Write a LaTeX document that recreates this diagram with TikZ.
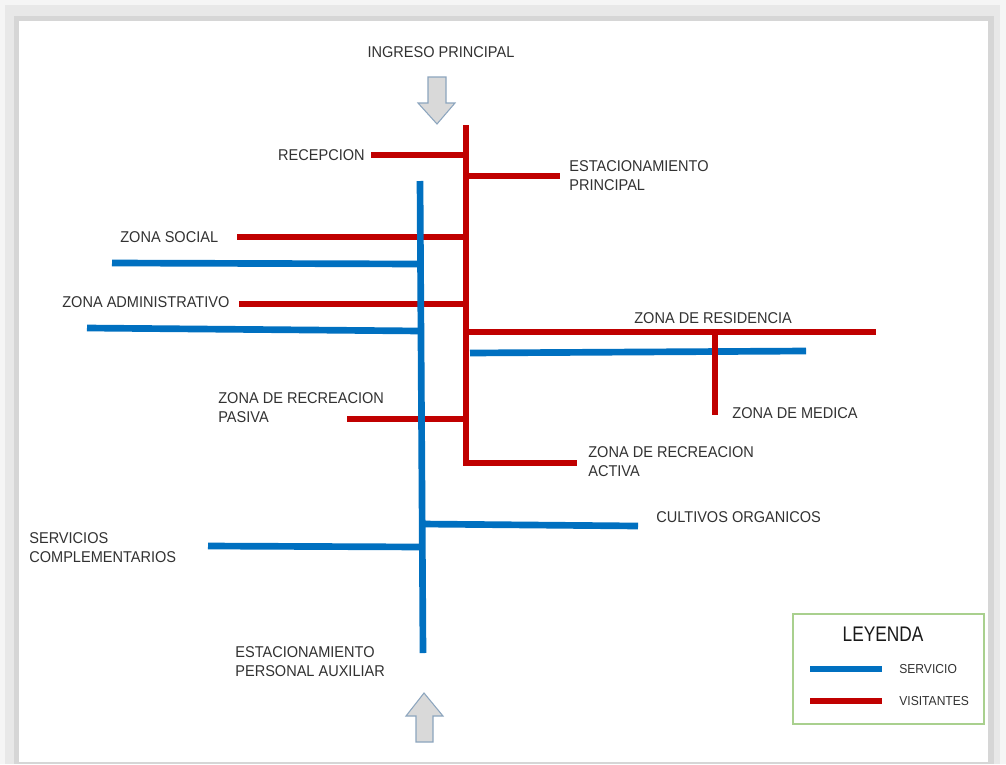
\documentclass[tikz,border=0pt]{standalone}
\usepackage{fontspec}
\setmainfont{Liberation Sans}
\newfontfamily\narrowfont[FakeStretch=0.93]{Liberation Sans}
\newfontfamily\leyendafont[FakeStretch=0.82]{Liberation Sans}
\definecolor{serv}{RGB}{0,112,192}
\definecolor{visit}{RGB}{192,0,0}
\definecolor{txt}{RGB}{50,50,50}
\definecolor{flecha}{RGB}{217,217,217}
\definecolor{flechaborde}{RGB}{140,165,190}
\definecolor{leyendaborde}{RGB}{169,208,142}
\tikzset{
	servline/.style={serv,line width=3.8pt},
	visline/.style={visit,line width=3.8pt},
	lbl/.style={text=txt,font=\narrowfont\fontsize{8.9}{10.8}\selectfont,inner sep=0pt,align=left},
	ingreso/.style={fill=flecha,draw=flechaborde,line width=0.6pt,line join=miter},
}
\begin{document}
\begin{tikzpicture}[x=0.02cm,y=-0.02cm]
	\useasboundingbox (0,0) rectangle (1006,764);
	% marco con sombra
	\fill[gray!8] (0,0) rectangle (1006,764);
	\fill[gray!18] (5,5) rectangle (1000,764);
	\fill[gray!32] (14,16) rectangle (994,764);
	\fill[white] (19,21) rectangle (988,762);
	% ingresos
	\node[lbl] (ingreso) at (441,52) {INGRESO PRINCIPAL};
	\draw[ingreso] (428,77) -- (446,77) -- (446,103) -- (455,103) -- (437,124) -- (418,103) -- (428,103) -- cycle;
	\draw[ingreso] (416,742) -- (433,742) -- (433,716) -- (443,716) -- (424,693) -- (406,716) -- (416,716) -- cycle;
	% visitantes
	\coordinate (rtop) at (466,125);
	\coordinate (rbot) at (466,463);
	\draw[visline,line join=miter] (rtop) -- (rbot) -- (577,463);
	\foreach \y/\xa in {155/371,237/237,304/239,419/347} \draw[visline] (\xa,\y) -- (466,\y);
	\foreach \y/\xb in {176/560,332/876} \draw[visline] (466,\y) -- (\xb,\y);
	% servicio
	\coordinate (stop) at (420,181);
	\coordinate (sbot) at (423,653);
	\draw[servline] (stop) -- (sbot);
	\draw[servline] (112,263) -- (421,264);
	\draw[servline] (87,328) -- (421,331);
	\draw[servline] (208,546) -- (423,547);
	\draw[servline] (422,524) -- (638,526);
	\draw[servline] (470,353) -- (806,351);
	\draw[visline] (715,332) -- (715,415);
	% textos
	\node[lbl,anchor=east] (recepcion) at (365,155) {RECEPCION};
	\node[lbl,anchor=west] (estprin) at (569,176) {ESTACIONAMIENTO\\PRINCIPAL};
	\node[lbl,anchor=west] (social) at (120,237) {ZONA SOCIAL};
	\node[lbl,anchor=west] (admin) at (62,302) {ZONA ADMINISTRATIVO};
	\node[lbl,anchor=west] (resid) at (634,318) {ZONA DE RESIDENCIA};
	\node[lbl,anchor=west] (medica) at (732,413) {ZONA DE MEDICA};
	\node[lbl,anchor=west] (pasiva) at (218,408) {ZONA DE RECREACION\\PASIVA};
	\node[lbl,anchor=west] (activa) at (588,462) {ZONA DE RECREACION\\ACTIVA};
	\node[lbl,anchor=west] (cultivos) at (656,517) {CULTIVOS ORGANICOS};
	\node[lbl,anchor=west] (servcomp) at (29,548) {SERVICIOS\\COMPLEMENTARIOS};
	\node[lbl,anchor=west] (estaux) at (235,662) {ESTACIONAMIENTO\\PERSONAL AUXILIAR};
	% leyenda
	\draw[leyendaborde,line width=0.8pt] (793,614) rectangle (984,724);
	\node[lbl,text=black!90,font=\leyendafont\fontsize{12}{14}\selectfont] (leyenda) at (883,634) {LEYENDA};
	\draw[servline] (810,669) -- (882,669) node[lbl,font=\narrowfont\fontsize{7.4}{8}\selectfont,anchor=west,xshift=14*0.02cm] (servicio) {SERVICIO};
	\draw[visline] (810,701) -- (882,701) node[lbl,font=\narrowfont\fontsize{7.4}{8}\selectfont,anchor=west,xshift=14*0.02cm] (visitantes) {VISITANTES};
\end{tikzpicture}
\end{document}
